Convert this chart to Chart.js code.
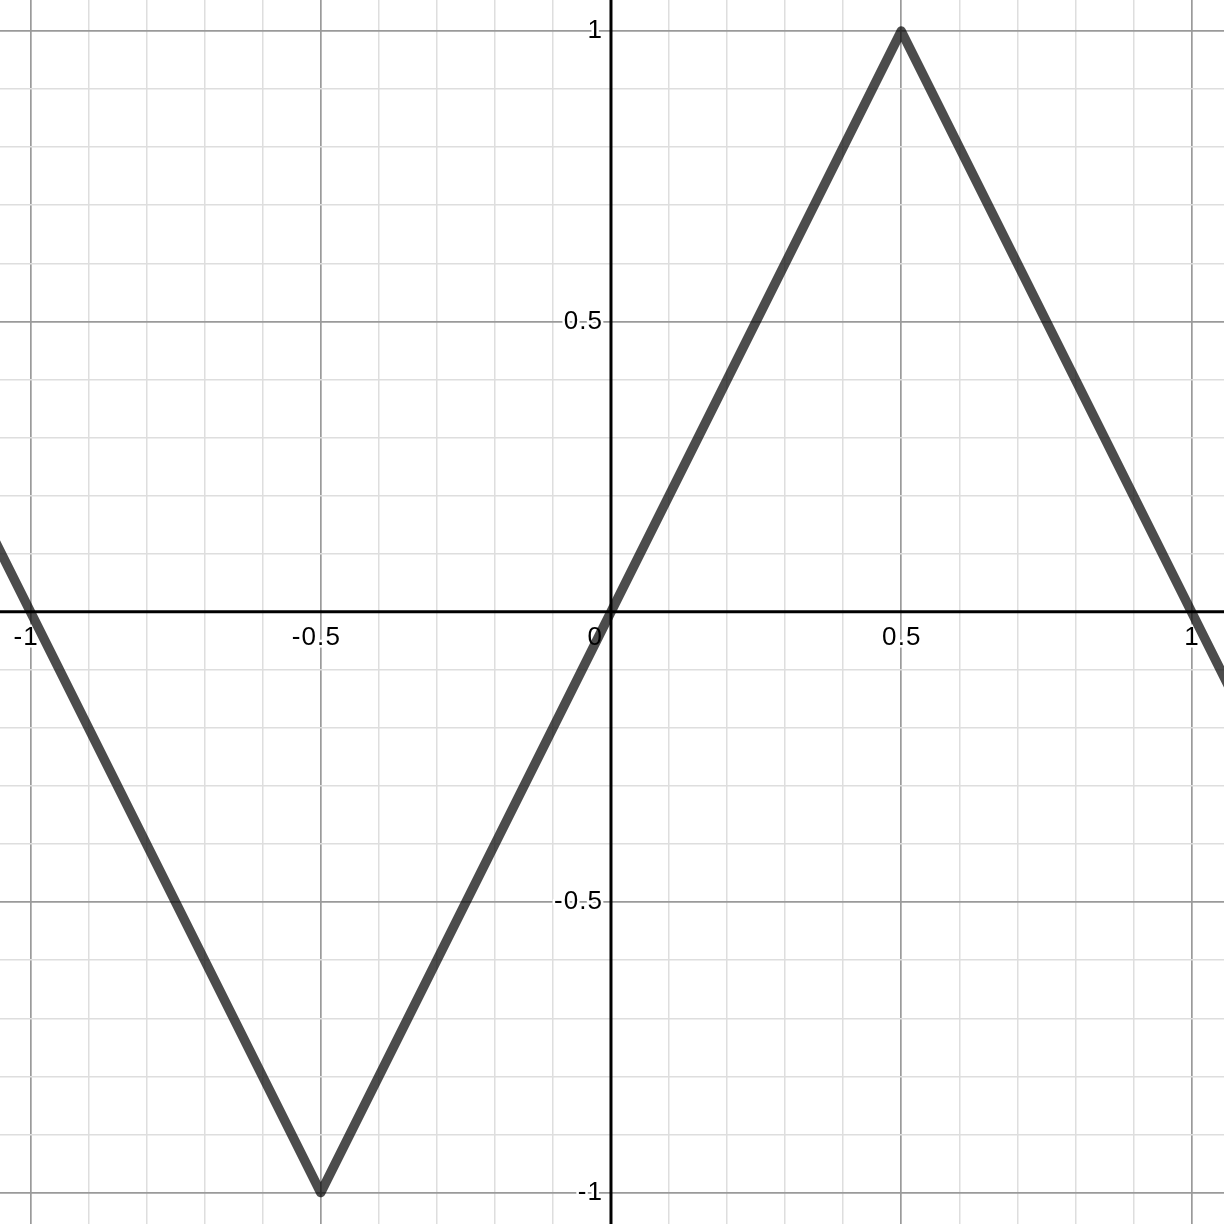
<!DOCTYPE html>
<html><head><meta charset="utf-8">
<script src="https://cdn.jsdelivr.net/npm/chart.js@4/dist/chart.umd.min.js"></script>
<style>html,body{margin:0;padding:0;background:#fff;overflow:hidden;} #wrap{width:1224px;height:1224px;position:relative;}</style>
</head><body><div id="wrap"><canvas id="c"></canvas></div>
<script>
// ---- data ----
const curveX = [-1.5, -0.5, 0.5, 1.5];
const curveY = [1, -1, 1, -1];
const xTickValues = [-1, -0.5, 0.5, 1];
const xTickLabels = ['-1', '-0.5', '0.5', '1'];
const yTickValues = [-1, -0.5, 0.5, 1];
const yTickLabels = ['-1', '-0.5', '0.5', '1'];
const originLabel = '0';
const xRange = [-1.0525, 1.056];
const yRange = [-1.0542, 1.0534];
const gridStep = 0.1;

const FONT = '26px "Liberation Sans", Arial, sans-serif';
const SPACING = 1.1;

function gridTicks(scale) {
  const lo = Math.ceil(scale.min / gridStep - 1e-9);
  const hi = Math.floor(scale.max / gridStep + 1e-9);
  const t = [];
  for (let k = lo; k <= hi; k++) t.push({ value: Math.round(k * gridStep * 1e6) / 1e6 });
  scale.ticks = t;
}
function isMajor(v) { return Math.abs(v * 2 - Math.round(v * 2)) < 1e-6; }
function gridColor(ctx) {
  const v = ctx.tick ? ctx.tick.value : 1;
  if (Math.abs(v) < 1e-9) return 'rgba(0,0,0,0)';
  return isMajor(v) ? '#9a9a9a' : '#dedede';
}
function gridWidth(ctx) {
  const v = ctx.tick ? ctx.tick.value : 1;
  return isMajor(v) ? 1.7 : 1.5;
}

function haloText(ctx, text, x, y) {
  ctx.lineWidth = 5;
  ctx.strokeStyle = '#ffffff';
  ctx.lineJoin = 'round';
  ctx.strokeText(text, x, y);
  ctx.fillStyle = '#000000';
  ctx.fillText(text, x, y);
}

const axesPlugin = {
  id: 'desmosAxes',
  beforeDatasetsDraw(chart) {
    const ctx = chart.ctx;
    const xs = chart.scales.x, ys = chart.scales.y;
    const ca = chart.chartArea;
    const x0 = xs.getPixelForValue(0), y0 = ys.getPixelForValue(0);
    ctx.save();
    ctx.strokeStyle = '#000000';
    ctx.lineWidth = 3;
    ctx.beginPath();
    ctx.moveTo(ca.left, y0); ctx.lineTo(ca.right, y0);
    ctx.moveTo(x0, ca.top); ctx.lineTo(x0, ca.bottom);
    ctx.stroke();

    ctx.font = FONT;
    if ('letterSpacing' in ctx) ctx.letterSpacing = SPACING + 'px';
    ctx.textBaseline = 'middle';
    const ly = y0 + 26;
    xTickValues.forEach((v, i) => {
      const lab = xTickLabels[i];
      const px = xs.getPixelForValue(v);
      const neg = lab.startsWith('-');
      const body = neg ? lab.slice(1) : lab;
      const w = ctx.measureText(body).width - SPACING;
      ctx.textAlign = 'left';
      haloText(ctx, body, px - w / 2, ly);
      if (neg) {
        ctx.textAlign = 'right';
        haloText(ctx, '-', px - w / 2, ly);
      }
    });
    ctx.textAlign = 'right';
    haloText(ctx, originLabel, x0 - 9 + SPACING, ly);
    yTickValues.forEach((v, i) => {
      const py = ys.getPixelForValue(v);
      haloText(ctx, yTickLabels[i], x0 - 9 + SPACING, py);
    });
    ctx.restore();
  }
};

new Chart(document.getElementById('c'), {
  type: 'scatter',
  data: {
    datasets: [{
      data: curveX.map((x, i) => ({ x: x, y: curveY[i] })),
      showLine: true,
      pointRadius: 0,
      borderColor: 'rgba(0,0,0,0.7)',
      borderWidth: 9.5,
      borderJoinStyle: 'round',
      borderCapStyle: 'round',
      tension: 0
    }]
  },
  options: {
    responsive: true,
    maintainAspectRatio: false,
    animation: false,
    layout: { padding: 0 },
    plugins: { legend: { display: false }, tooltip: { enabled: false } },
    scales: {
      x: {
        type: 'linear', min: xRange[0], max: xRange[1],
        afterBuildTicks: gridTicks,
        ticks: { display: false },
        border: { display: false },
        grid: { drawTicks: false, color: gridColor, lineWidth: gridWidth }
      },
      y: {
        type: 'linear', min: yRange[0], max: yRange[1],
        afterBuildTicks: gridTicks,
        ticks: { display: false },
        border: { display: false },
        grid: { drawTicks: false, color: gridColor, lineWidth: gridWidth }
      }
    }
  },
  plugins: [axesPlugin]
});
</script>
</body></html>
